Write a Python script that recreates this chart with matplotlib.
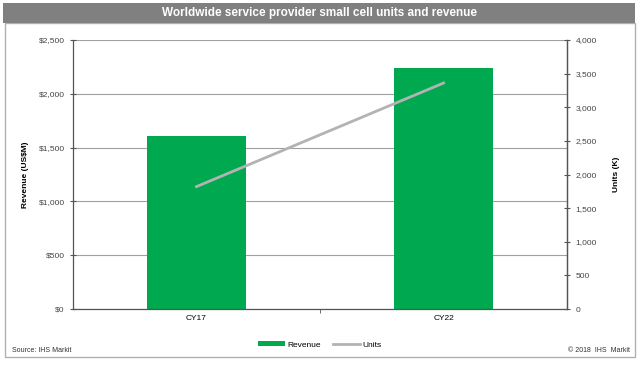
import matplotlib.pyplot as plt
from matplotlib.patches import Rectangle
from matplotlib.ticker import FuncFormatter, MultipleLocator

plt.rcParams['font.family'] = ['Liberation Sans', 'DejaVu Sans']

# Data
years = ['CY17', 'CY22']
revenue = [1605, 2240]   # US$M
units = [1820, 3360]     # K units

green = '#00a84f'
line_gray = '#b3b3b3'
axis_gray = '#555555'

fig = plt.figure(figsize=(6.4, 3.65), dpi=100)

# outer frame and title banner
fig.patches.append(Rectangle((5 / 640, 8 / 365), 630 / 640, 334 / 365,
                             transform=fig.transFigure, fill=False,
                             edgecolor='#b0b0b0', lw=1.0))
fig.patches.append(Rectangle((3 / 640, 342 / 365), 632 / 640, 20 / 365,
                             transform=fig.transFigure, facecolor='#808080',
                             edgecolor='none'))
fig.text(0.5, 352 / 365, 'Worldwide service provider small cell units and revenue',
         ha='center', va='center', color='white', fontsize=8.5, fontweight='bold')

ax = fig.add_axes([73 / 640, 56 / 365, 494 / 640, 269 / 365])
x = list(range(len(years)))
ax.bar(x, revenue, width=0.4, color=green, zorder=2, label='Revenue')
ax.set_xlim(-0.5, 1.5)
ax.set_ylim(0, 2500)
ax.yaxis.set_major_locator(MultipleLocator(500))
ax.yaxis.set_major_formatter(FuncFormatter(lambda v, p: '\\$' + format(int(v), ',')))
ax.grid(axis='y', color='#a0a0a0', lw=0.8, zorder=0)
ax.set_xticks(x)
ax.set_xticklabels(years)
ax.set_xticks([0.5], minor=True)
ax.tick_params(axis='x', which='major', length=0, labelsize=6, pad=4)
ax.tick_params(axis='x', which='minor', length=3, direction='out', color=axis_gray)
ax.tick_params(axis='y', direction='inout', length=5, labelsize=6, color=axis_gray,
               labelcolor='#444444')
ax.spines['top'].set_visible(False)
for s in ['left', 'right', 'bottom']:
    ax.spines[s].set_color(axis_gray)
    ax.spines[s].set_linewidth(0.9)
ax.set_ylabel('Revenue (US\\$M)', fontsize=6, fontweight='bold', labelpad=7)

ax2 = ax.twinx()
ax2.plot(x, units, color=line_gray, lw=2, zorder=3, label='Units')
ax2.set_ylim(0, 4000)
ax2.yaxis.set_major_locator(MultipleLocator(500))
ax2.yaxis.set_major_formatter(FuncFormatter(lambda v, p: format(int(v), ',')))
ax2.tick_params(axis='y', direction='inout', length=5, labelsize=6, color=axis_gray,
                labelcolor='#444444')
for s in ['top', 'left', 'bottom']:
    ax2.spines[s].set_visible(False)
ax2.spines['right'].set_color(axis_gray)
ax2.spines['right'].set_linewidth(0.9)
ax2.set_ylabel('Units (K)', fontsize=6, fontweight='bold', labelpad=12)

h1, l1 = ax.get_legend_handles_labels()
h2, l2 = ax2.get_legend_handles_labels()
fig.legend(h1 + h2, l1 + l2, loc='center', bbox_to_anchor=(0.5, 20 / 365),
           ncol=2, frameon=False, fontsize=6, handlelength=3.2,
           handleheight=0.5, columnspacing=1.5, handletextpad=0.3)

fig.text(12 / 640, 15 / 365, 'Source: IHS Markit', fontsize=5, color='#333333',
         va='center')
fig.text(630 / 640, 15 / 365, '\u00a9 2018  IHS  Markit', fontsize=5,
         color='#333333', va='center', ha='right')

fig.savefig('out.png', dpi=100)
